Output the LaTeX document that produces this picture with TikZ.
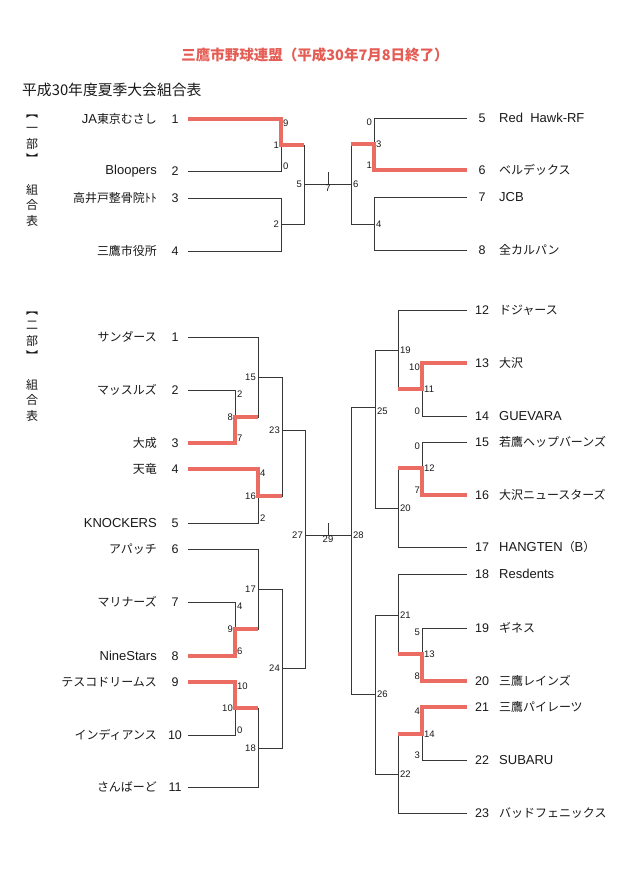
\documentclass[tikz,border=0pt]{standalone}
\usepackage{fontspec}
\setmainfont{Liberation Sans}
\newfontfamily\jp{Noto Sans CJK JP}
\newfontfamily\jpn[Scale=0.92]{Noto Sans CJK JP}
\usepackage{xcolor}
\usepackage{tikz}
\usetikzlibrary{positioning}
\definecolor{winred}{RGB}{234,108,98}
\definecolor{titlered}{RGB}{228,92,84}
\definecolor{linegray}{RGB}{55,55,55}

\begin{document}
\begin{tikzpicture}[x=1pt, y=-1pt, every node/.style={inner sep=0pt, text=black!90},
  tname/.style={font=\fontsize{13}{15}\selectfont},
  num/.style={font=\fontsize{12.5}{14}\selectfont},
  score/.style={font=\fontsize{9.5}{11}\selectfont, inner xsep=2pt, inner ysep=1pt},
  side/.style={font=\jp\fontsize{12}{15.5}\selectfont, align=center},
  bline/.style={draw=linegray, line width=0.8pt},
  win/.style={draw=winred, line width=3.5pt}]
\fill[white] (0,0) rectangle (631,889);

% Title
\node[font=\jp\bfseries\fontsize{14.5}{16}\selectfont, text=titlered] (title) at (315,55) {三鷹市野球連盟（平成30年7月8日終了）};
\node[font=\jp\fontsize{14.8}{16}\selectfont, anchor=west] (sub) at (22,90) {平成30年度夏季大会組合表};

% Side labels
\node[side] (s1a) at (32,139) {︻\\一\\部\\︼};
\node[side] (s1b) at (32,205) {組\\合\\表};
\node[side] (s2a) at (32,336) {︻\\二\\部\\︼};
\node[side] (s2b) at (32,400) {組\\合\\表};

% Teams, first division
\node[num] (a1) at (175,119) {1}; \node[tname, left=18pt of a1.center] (a1t) {JA{\jpn 東京むさし}}; \coordinate (a1e) at (188,119);
\node[num] (a2) at (175,171) {2}; \node[tname, left=18pt of a2.center] (a2t) {Bloopers}; \coordinate (a2e) at (188,171);
\node[num] (a3) at (175,198) {3}; \node[tname, left=18pt of a3.center] (a3t) {\jpn 高井戸整骨院ﾄﾄ}; \coordinate (a3e) at (188,198);
\node[num] (a4) at (175,251) {4}; \node[tname, left=18pt of a4.center] (a4t) {\jpn 三鷹市役所}; \coordinate (a4e) at (188,251);
\node[num] (a5) at (482,118) {5}; \node[tname, right=17pt of a5.center] (a5t) {Red\ \ Hawk-RF}; \coordinate (a5e) at (467,118);
\node[num] (a6) at (482,170) {6}; \node[tname, right=17pt of a6.center] (a6t) {\jpn ベルデックス}; \coordinate (a6e) at (467,170);
\node[num] (a7) at (482,197) {7}; \node[tname, right=17pt of a7.center] (a7t) {JCB}; \coordinate (a7e) at (467,197);
\node[num] (a8) at (482,250) {8}; \node[tname, right=17pt of a8.center] (a8t) {\jpn 全カルパン}; \coordinate (a8e) at (467,250);

% Junctions, first division
\coordinate (j1) at (281,145); \coordinate (j2) at (281,224); \coordinate (j5) at (304,184);
\coordinate (j7) at (328,184); \coordinate (k7) at (328,172); \coordinate (j6) at (351,184);
\coordinate (j3) at (374,144); \coordinate (j4) at (374,224);

\draw[bline] (a1e) -| (j1) -| (j5) -- (j6);
\draw[bline] (a2e) -| (j1);
\draw[bline] (a3e) -| (j2) -| (j5);
\draw[bline] (a4e) -| (j2);
\draw[bline] (a5e) -| (j3) -| (j6);
\draw[bline] (a6e) -| (j3);
\draw[bline] (a7e) -| (j4) -| (j6);
\draw[bline] (a8e) -| (j4);
\draw[bline] (j7) -- (k7);

% Winners
\draw[win] (a1e) -| (j1) -- (j1 -| j5);
\draw[win] (a6e) -| (j3) -- (j3 -| j6);

% Match numbers and scores
\node[score, anchor=north west] (sc1a) at (a1e -| j1) {9};
\node[score, anchor=south west] (sc1b) at (a2e -| j1) {0};
\node[score, anchor=east] (m1) at (j1) {1};
\node[score, anchor=east] (m2) at (j2) {2};
\node[score, anchor=east] (m5) at (j5) {5};
\node[score, anchor=north] (m7) at (j7) {7};
\node[score, anchor=west] (m6) at (j6) {6};
\node[score, anchor=north east] (sc3a) at (a5e -| j3) {0};
\node[score, anchor=south east] (sc3b) at (a6e -| j3) {1};
\node[score, anchor=west] (m3) at (j3) {3};
\node[score, anchor=west] (m4) at (j4) {4};

% Teams, second division
\node[num] (b1) at (175,337) {1}; \node[tname, left=18pt of b1.center] (b1t) {\jpn サンダース}; \coordinate (b1e) at (188,337);
\node[num] (b2) at (175,390) {2}; \node[tname, left=18pt of b2.center] (b2t) {\jpn マッスルズ}; \coordinate (b2e) at (188,390);
\node[num] (b3) at (175,443) {3}; \node[tname, left=18pt of b3.center] (b3t) {\jpn 大成}; \coordinate (b3e) at (188,443);
\node[num] (b4) at (175,469) {4}; \node[tname, left=18pt of b4.center] (b4t) {\jpn 天竜}; \coordinate (b4e) at (188,469);
\node[num] (b5) at (175,523) {5}; \node[tname, left=18pt of b5.center] (b5t) {KNOCKERS}; \coordinate (b5e) at (188,523);
\node[num] (b6) at (175,549) {6}; \node[tname, left=18pt of b6.center] (b6t) {\jpn アパッチ}; \coordinate (b6e) at (188,549);
\node[num] (b7) at (175,602) {7}; \node[tname, left=18pt of b7.center] (b7t) {\jpn マリナーズ}; \coordinate (b7e) at (188,602);
\node[num] (b8) at (175,656) {8}; \node[tname, left=18pt of b8.center] (b8t) {NineStars}; \coordinate (b8e) at (188,656);
\node[num] (b9) at (175,682) {9}; \node[tname, left=18pt of b9.center] (b9t) {\jpn テスコドリームス}; \coordinate (b9e) at (188,682);
\node[num] (b10) at (175,735) {10}; \node[tname, left=18pt of b10.center] (b10t) {\jpn インディアンス}; \coordinate (b10e) at (188,735);
\node[num] (b11) at (175,787) {11}; \node[tname, left=18pt of b11.center] (b11t) {\jpn さんばーど}; \coordinate (b11e) at (188,787);
\node[num] (b12) at (482,310) {12}; \node[tname, right=17pt of b12.center] (b12t) {\jpn ドジャース}; \coordinate (b12e) at (467,310);
\node[num] (b13) at (482,363) {13}; \node[tname, right=17pt of b13.center] (b13t) {\jpn 大沢}; \coordinate (b13e) at (467,363);
\node[num] (b14) at (482,416) {14}; \node[tname, right=17pt of b14.center] (b14t) {GUEVARA}; \coordinate (b14e) at (467,416);
\node[num] (b15) at (482,442) {15}; \node[tname, right=17pt of b15.center] (b15t) {\jpn 若鷹ヘップバーンズ}; \coordinate (b15e) at (467,442);
\node[num] (b16) at (482,495) {16}; \node[tname, right=17pt of b16.center] (b16t) {\jpn 大沢ニュースターズ}; \coordinate (b16e) at (467,495);
\node[num] (b17) at (482,547) {17}; \node[tname, right=17pt of b17.center] (b17t) {HANGTEN{\jpn （}B{\jpn ）}}; \coordinate (b17e) at (467,547);
\node[num] (b18) at (482,574) {18}; \node[tname, right=17pt of b18.center] (b18t) {Resdents}; \coordinate (b18e) at (467,574);
\node[num] (b19) at (482,628) {19}; \node[tname, right=17pt of b19.center] (b19t) {\jpn ギネス}; \coordinate (b19e) at (467,628);
\node[num] (b20) at (482,681) {20}; \node[tname, right=17pt of b20.center] (b20t) {\jpn 三鷹レインズ}; \coordinate (b20e) at (467,681);
\node[num] (b21) at (482,707) {21}; \node[tname, right=17pt of b21.center] (b21t) {\jpn 三鷹パイレーツ}; \coordinate (b21e) at (467,707);
\node[num] (b22) at (482,760) {22}; \node[tname, right=17pt of b22.center] (b22t) {SUBARU}; \coordinate (b22e) at (467,760);
\node[num] (b23) at (482,813) {23}; \node[tname, right=17pt of b23.center] (b23t) {\jpn バッドフェニックス}; \coordinate (b23e) at (467,813);

% Junctions, second division
\coordinate (j8) at (235,417); \coordinate (j15) at (258,377); \coordinate (j16) at (258,496); \coordinate (j23) at (282,430);
\coordinate (j9) at (235,629); \coordinate (j17) at (258,589); \coordinate (j10) at (235,708); \coordinate (j18) at (258,748);
\coordinate (j24) at (282,668); \coordinate (j27) at (305,535);
\coordinate (j29) at (328,535); \coordinate (k29) at (328,523); \coordinate (j28) at (351,535);
\coordinate (j11) at (422,389); \coordinate (j19) at (398,350); \coordinate (j12) at (422,468); \coordinate (j20) at (398,508);
\coordinate (j25) at (375,407); \coordinate (j13) at (422,654); \coordinate (j21) at (398,615); \coordinate (j14) at (422,734);
\coordinate (j22) at (398,774); \coordinate (j26) at (375,694);

\draw[bline] (b1e) -| (j15) -| (j23) -| (j27) -- (j28);
\draw[bline] (b2e) -| (j8) -| (j15);
\draw[bline] (b3e) -| (j8);
\draw[bline] (b4e) -| (j16) -| (j23);
\draw[bline] (b5e) -| (j16);
\draw[bline] (b6e) -| (j17) -| (j24) -| (j27);
\draw[bline] (b7e) -| (j9) -| (j17);
\draw[bline] (b8e) -| (j9);
\draw[bline] (b9e) -| (j10) -| (j18) -| (j24);
\draw[bline] (b10e) -| (j10);
\draw[bline] (b11e) -| (j18);
\draw[bline] (j29) -- (k29);
\draw[bline] (b12e) -| (j19) -| (j25) -| (j28);
\draw[bline] (b13e) -| (j11) -| (j19);
\draw[bline] (b14e) -| (j11);
\draw[bline] (b15e) -| (j12) -| (j20) -| (j25);
\draw[bline] (b16e) -| (j12);
\draw[bline] (b17e) -| (j20);
\draw[bline] (b18e) -| (j21) -| (j26) -| (j28);
\draw[bline] (b19e) -| (j13) -| (j21);
\draw[bline] (b20e) -| (j13);
\draw[bline] (b21e) -| (j14) -| (j22) -| (j26);
\draw[bline] (b22e) -| (j14);
\draw[bline] (b23e) -| (j22);

% Winners
\draw[win] (b3e) -| (j8) -- (j8 -| j15);
\draw[win] (b4e) -| (j16) -- (j16 -| j23);
\draw[win] (b8e) -| (j9) -- (j9 -| j17);
\draw[win] (b9e) -| (j10) -- (j10 -| j18);
\draw[win] (b13e) -| (j11) -- (j11 -| j19);
\draw[win] (b16e) -| (j12) -- (j12 -| j20);
\draw[win] (b20e) -| (j13) -- (j13 -| j21);
\draw[win] (b21e) -| (j14) -- (j14 -| j22);

% Match numbers
\node[score, anchor=east] (m8) at (j8) {8};
\node[score, anchor=east] (m15) at (j15) {15};
\node[score, anchor=east] (m16) at (j16) {16};
\node[score, anchor=east] (m23) at (j23) {23};
\node[score, anchor=east] (m9) at (j9) {9};
\node[score, anchor=east] (m17) at (j17) {17};
\node[score, anchor=east] (m10) at (j10) {10};
\node[score, anchor=east] (m18) at (j18) {18};
\node[score, anchor=east] (m24) at (j24) {24};
\node[score, anchor=east] (m27) at (j27) {27};
\node[score, anchor=north] (m29) at (j29) {29};
\node[score, anchor=west] (m28) at (j28) {28};
\node[score, anchor=west] (m11) at (j11) {11};
\node[score, anchor=west] (m19) at (j19) {19};
\node[score, anchor=west] (m12) at (j12) {12};
\node[score, anchor=west] (m20) at (j20) {20};
\node[score, anchor=north west] (m25) at (j25) {25};
\node[score, anchor=west] (m13) at (j13) {13};
\node[score, anchor=west] (m21) at (j21) {21};
\node[score, anchor=west] (m14) at (j14) {14};
\node[score, anchor=west] (m22) at (j22) {22};
\node[score, anchor=west] (m26) at (j26) {26};

% Scores
\node[score, anchor=north west] (sc8a) at (b2e -| j8) {2};
\node[score, anchor=south west] (sc8b) at (b3e -| j8) {7};
\node[score, anchor=north west] (sc16a) at (b4e -| j16) {4};
\node[score, anchor=south west] (sc16b) at (b5e -| j16) {2};
\node[score, anchor=north west] (sc9a) at (b7e -| j9) {4};
\node[score, anchor=south west] (sc9b) at (b8e -| j9) {6};
\node[score, anchor=north west] (sc10a) at (b9e -| j10) {10};
\node[score, anchor=south west] (sc10b) at (b10e -| j10) {0};
\node[score, anchor=north east] (sc11a) at (b13e -| j11) {10};
\node[score, anchor=south east] (sc11b) at (b14e -| j11) {0};
\node[score, anchor=north east] (sc12a) at (b15e -| j12) {0};
\node[score, anchor=south east] (sc12b) at (b16e -| j12) {7};
\node[score, anchor=north east] (sc13a) at (b19e -| j13) {5};
\node[score, anchor=south east] (sc13b) at (b20e -| j13) {8};
\node[score, anchor=north east] (sc14a) at (b21e -| j14) {4};
\node[score, anchor=south east] (sc14b) at (b22e -| j14) {3};

\end{tikzpicture}
\end{document}
